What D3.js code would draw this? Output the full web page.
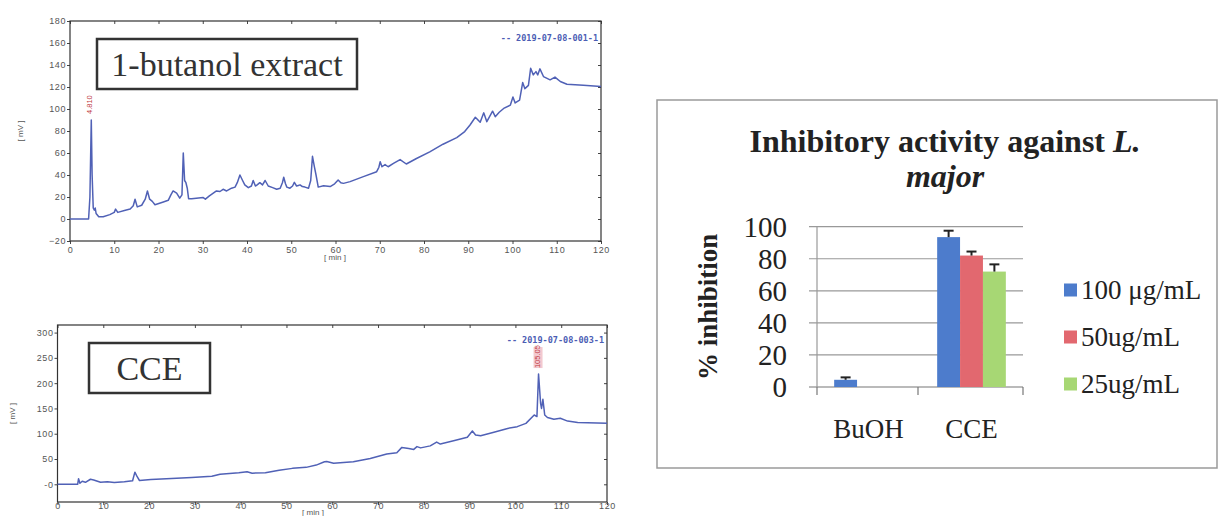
<!DOCTYPE html>
<html>
<head>
<meta charset="utf-8">
<script src="https://cdn.jsdelivr.net/npm/d3@7"></script>
<style>
  body { margin: 0; background: #fff; }
  svg { display: block; }
  .chrom .tick text { font-family: "Liberation Sans", Arial, sans-serif; font-size: 9px; fill: #555; letter-spacing: 0.6px; }
  .chrom .tick line { stroke: #444; }
  .chrom .domain { display: none; }
  .bars text { font-family: "Liberation Serif", "Times New Roman", serif; fill: #222; }
</style>
</head>
<body>
<svg id="fig" width="1219" height="516"></svg>
<script>
// ---- chromatogram data: [retention time (min), signal (mV)]
var butanolTrace = [[0,0],[4.2,0],[4.5,20],[4.81,90],[5.0,40],[5.25,10],[5.5,8],[5.7,10],[5.9,5],[6.5,2],[7.5,2],
  [9.0,4],[10.0,6],[10.3,9],[10.8,6],[12.5,8],[13.6,9],[14.3,12],[14.7,18],[15.2,11],[16.2,12.5],[17.0,18],
  [17.5,25.5],[18.0,18],[18.6,16],[19.2,13],[21.1,15.5],[22.2,17],[22.8,22],[23.3,25.5],[24.1,23.5],[24.8,19],
  [25.3,22],[25.6,60],[25.9,35],[26.2,33],[26.5,28],[26.8,18.5],[27.5,18.5],[30.1,19.5],[30.6,18],[31.5,21],
  [33.1,25.5],[33.9,25],[34.6,27],[35.4,25.5],[36.5,28],[37.3,29],[37.8,33],[38.4,40],[39.0,35],[39.5,31],
  [40.3,28.5],[41.0,30],[41.4,35],[41.9,30],[42.3,31],[42.9,33],[43.5,31],[44.1,35],[44.8,30],[45.8,28.5],
  [46.7,27],[47.5,28],[48.0,33],[48.3,38],[48.7,32],[49.0,29],[49.7,28],[50.3,30],[50.7,33.3],[51.2,30],
  [51.6,30.5],[52.0,31],[52.5,29.5],[53.1,29],[53.9,28],[54.4,35],[54.8,57],[55.2,48],[55.6,40],[56.1,29],
  [57.3,30.3],[58.8,29.5],[59.8,32],[60.6,35.5],[61.2,33],[61.8,32.4],[63.3,34],[66.3,38.5],[69.3,43],
  [69.8,47],[70.1,52],[70.5,47.5],[71.2,49.5],[71.9,47.5],[73.1,50.5],[74.6,54],[76.0,50],[78.3,55],
  [81.3,61],[84.3,68],[87.4,74],[89.2,79.5],[90.4,85.5],[91.6,92.5],[92.7,88],[93.5,96.5],[94.2,88.5],
  [95.5,98],[96.1,93],[97.0,97],[98.0,100.5],[99.5,103.5],[100.1,111],[100.6,105.5],[101.6,108],[102.3,124],
  [102.8,118.5],[103.6,121.5],[104.1,137],[104.7,131],[105.3,134],[105.7,131],[106.2,136.5],[107.0,129.5],
  [108.5,126.5],[109.6,129],[110.8,125],[112.3,122.5],[116.0,121.5],[120,120.5]];

var cceTrace = [[0,0],[4.4,0],[4.6,11],[4.9,2],[5.4,6],[6.1,4],[7.2,10],[7.9,8.5],[9.4,4],[10.9,5],[12.4,3.5],
  [14.6,5],[16.4,7],[16.9,24],[17.4,15],[17.9,7.5],[20.4,9.5],[24.9,11.5],[29.3,13.5],[33.7,16],[35.5,20],
  [39.6,23],[41.4,25],[42.5,22],[45.4,23],[48.4,28],[51.3,31.5],[54.3,33.5],[56.5,38],[58.3,44.5],[58.8,45],
  [60.3,41.5],[64.6,44.5],[68.3,51],[71.9,60],[74.1,62.5],[75.2,73],[76.7,71],[77.8,69],[78.5,74.5],[79.3,72],
  [81.4,76],[82.8,83.5],[83.6,79.5],[86.5,86],[89.5,93],[90.6,105.5],[91.3,97.5],[92.4,96],[95.3,103],
  [98.3,110.5],[100.4,114],[102.3,120.5],[104.1,137],[104.7,134],[105.05,218],[105.5,160],[105.7,150],
  [106.0,168],[106.4,137],[107.0,132],[108.4,128.5],[109.8,130.5],[111.4,125],[113.6,122],[120,120.5]];

var timeTicks = [0,10,20,30,40,50,60,70,80,90,100,110,120];
var butanolTicks = [-20,0,20,40,60,80,100,120,140,160,180];
var cceTicks = [0,50,100,150,200,250,300];

// ---- bar chart data
var groups = ["BuOH", "CCE"];
var series = ["100 μg/mL", "50ug/mL", "25ug/mL"];
var inhibition = [[4.5, null, null], [93.5, 82, 72]];
var inhibitionErr = [[1.5, null, null], [4, 2.5, 4.5]];
var pctTicks = [0, 20, 40, 60, 80, 100];
var barColors = ["#4d7ccc", "#e2686f", "#a7d774"];

var svg = d3.select("#fig");

function drawChrom(c) {
  var g = svg.append("g").attr("class", "chrom");
  var x = d3.scaleLinear().domain([0, 120]).range([c.left, c.right]);
  var y = d3.scaleLinear().domain(c.yDomain).range([c.bottom, c.top]);

  g.append("g").attr("transform", "translate(0," + c.bottom + ")")
    .call(d3.axisBottom(x).tickValues(timeTicks).tickSize(3).tickPadding(c.xPad));
  g.append("g").attr("transform", "translate(0," + c.top + ")")
    .call(d3.axisTop(x).tickValues(timeTicks).tickSize(-3).tickFormat(""));
  g.append("g").attr("transform", "translate(" + c.left + ",0)")
    .call(d3.axisLeft(y).tickValues(c.yTicks).tickSize(3).tickPadding(1).tickFormat(c.fmt || d3.format("d")));
  g.append("g").attr("transform", "translate(" + c.right + ",0)")
    .call(d3.axisRight(y).tickValues(c.yTicks).tickSize(-3).tickFormat(""));

  g.append("rect")
    .attr("x", c.left).attr("y", c.top)
    .attr("width", c.right - c.left).attr("height", c.bottom - c.top)
    .attr("fill", "none").attr("stroke", "#333").attr("stroke-width", 1.2);

  g.append("path").datum(c.trace)
    .attr("d", d3.line().x(function(d) { return x(d[0]); }).y(function(d) { return y(d[1]); }))
    .attr("fill", "none").attr("stroke", "#5061b6").attr("stroke-width", 1.5)
    .attr("stroke-linejoin", "round");

  // axis titles
  g.append("text").text("[ min ]")
    .attr("x", c.minX).attr("y", c.minY)
    .attr("text-anchor", "middle")
    .style("font", "8px 'Liberation Sans', Arial, sans-serif").style("fill", "#555");
  g.append("text").text("[ mV ]")
    .attr("transform", "translate(" + c.mvX + "," + ((c.top + c.bottom) / 2) + ") rotate(-90)")
    .attr("text-anchor", "middle")
    .style("font", "8px 'Liberation Sans', Arial, sans-serif").style("fill", "#555");

  // run legend
  g.append("text").text("-- " + c.run)
    .attr("x", c.right - 3).attr("y", c.legendY)
    .attr("text-anchor", "end").attr("dominant-baseline", "middle")
    .style("font", "bold 8.5px 'DejaVu Sans Mono', monospace").style("fill", "#4b5db4");

  // peak retention time label
  var px = x(c.peak[0]), py = y(c.peak[1]);
  if (c.peakBg) {
    g.append("rect").attr("x", px - 5).attr("y", py - 27).attr("width", 9).attr("height", 21)
      .attr("fill", "#f3c9cf");
  }
  g.append("text").text(c.peakLabel)
    .attr("transform", "translate(" + (px - 1) + "," + (py - 6) + ") rotate(-90)")
    .attr("dominant-baseline", "middle")
    .style("font", "7.5px 'Liberation Sans', Arial, sans-serif").style("fill", "#c0393f");

  // sample name box
  g.append("rect")
    .attr("x", c.box[0]).attr("y", c.box[1]).attr("width", c.box[2]).attr("height", c.box[3])
    .attr("fill", "#fff").attr("stroke", "#333").attr("stroke-width", 2.5);
  g.append("text").text(c.name)
    .attr("x", c.box[0] + c.box[2] / 2).attr("y", c.box[1] + c.box[3] / 2 + 12)
    .attr("text-anchor", "middle")
    .style("font", "34px 'Liberation Serif', 'Times New Roman', serif").style("fill", "#333");
}

drawChrom({
  left: 70, right: 601, top: 21, bottom: 241,
  yDomain: [-20, 180], yTicks: butanolTicks, trace: butanolTrace, xPad: 3,
  mvX: 23, minX: 335, minY: 260, legendY: 38, run: "2019-07-08-001-1",
  peak: [4.81, 90], peakLabel: "4.810",
  box: [97, 39, 260, 50], name: "1-butanol extract"
});

drawChrom({
  left: 57.5, right: 607, top: 325, bottom: 502,
  yDomain: [-35, 315], yTicks: cceTicks, trace: cceTrace, xPad: -2,
  fmt: function(d) { return d === 0 ? "-0" : d; },
  mvX: 15, minX: 313, minY: 515, legendY: 340, run: "2019-07-08-003-1",
  peak: [105.05, 218], peakLabel: "105.05", peakBg: true,
  box: [89, 343, 121, 50], name: "CCE"
});

// ---- bar chart
var bg = svg.append("g").attr("class", "bars");
bg.append("rect").attr("x", 657).attr("y", 100).attr("width", 560).attr("height", 368)
  .attr("fill", "#fff").attr("stroke", "#9a9a9a").attr("stroke-width", 1.5);

var t1 = bg.append("text").attr("x", 945).attr("y", 152).attr("text-anchor", "middle")
  .style("font-size", "32px").style("font-weight", "bold");
t1.append("tspan").text("Inhibitory activity against ");
t1.append("tspan").text("L.").style("font-style", "italic");
bg.append("text").text("major").attr("x", 945).attr("y", 187).attr("text-anchor", "middle")
  .style("font-size", "32px").style("font-weight", "bold").style("font-style", "italic");

var bx = d3.scaleBand().domain(groups).range([817, 1023]);
var by = d3.scaleLinear().domain([0, 100]).range([387, 226.7]);
var barW = bx.bandwidth() / 4.5;
var bs = d3.scaleBand().domain(series).range([barW * 0.75, barW * 3.75]);

bg.append("g").selectAll("line").data(pctTicks).join("line")
  .attr("x1", 809).attr("x2", 1023)
  .attr("y1", function(d) { return by(d); }).attr("y2", function(d) { return by(d); })
  .attr("stroke", function(d) { return d === 0 ? "#777" : "#999"; }).attr("stroke-width", 1.2);
bg.append("line").attr("x1", 817).attr("x2", 817).attr("y1", by(100)).attr("y2", by(0))
  .attr("stroke", "#999").attr("stroke-width", 1.2);
bg.append("g").selectAll("line").data([817, 918, 1023]).join("line")
  .attr("x1", function(d) { return d; }).attr("x2", function(d) { return d; })
  .attr("y1", by(0)).attr("y2", by(0) + 8).attr("stroke", "#777").attr("stroke-width", 1.2);

bg.append("g").selectAll("text").data(pctTicks).join("text")
  .text(function(d) { return d; })
  .attr("x", 787).attr("y", function(d) { return by(d) + 10; })
  .attr("text-anchor", "end").style("font-size", "29px");

bg.append("text").text("% inhibition")
  .attr("transform", "translate(717," + by(50) + ") rotate(-90)")
  .attr("text-anchor", "middle").style("font-size", "27px").style("font-weight", "bold");

bg.append("g").selectAll("text").data(groups).join("text")
  .text(function(d) { return d; })
  .attr("x", function(d) { return bx(d) + bx.bandwidth() / 2; }).attr("y", 438)
  .attr("text-anchor", "middle").style("font-size", "27px");

groups.forEach(function(grp, gi) {
  series.forEach(function(s, si) {
    var v = inhibition[gi][si];
    if (v == null) return;
    var x0 = bx(grp) + bs(s);
    bg.append("rect").attr("x", x0).attr("y", by(v)).attr("width", bs.bandwidth())
      .attr("height", by(0) - by(v)).attr("fill", barColors[si]);
    var cx = x0 + bs.bandwidth() / 2, top = by(v + inhibitionErr[gi][si]);
    bg.append("line").attr("x1", cx).attr("x2", cx).attr("y1", by(v)).attr("y2", top)
      .attr("stroke", "#222").attr("stroke-width", 2);
    bg.append("line").attr("x1", cx - 5).attr("x2", cx + 5).attr("y1", top).attr("y2", top)
      .attr("stroke", "#222").attr("stroke-width", 2);
  });
});

var lg = bg.append("g").selectAll("g").data(series).join("g")
  .attr("transform", function(d, i) { return "translate(1064," + (290 + i * 47) + ")"; });
lg.append("rect").attr("x", 0).attr("y", -6.5).attr("width", 13).attr("height", 13)
  .attr("fill", function(d, i) { return barColors[i]; });
lg.append("text").text(function(d) { return d; })
  .attr("x", 17).attr("y", 9).style("font-size", "27px");
</script>
</body>
</html>
